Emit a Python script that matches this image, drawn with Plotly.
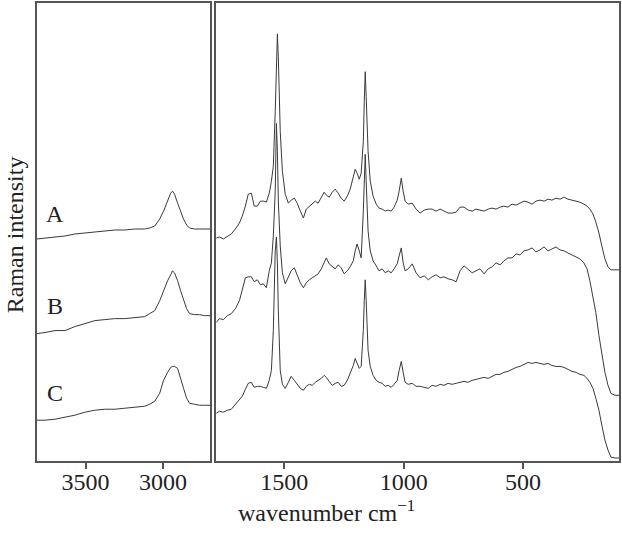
import plotly.graph_objects as go

# ---------------- data ----------------
# High-wavenumber region (C-H stretch), cm^-1
wn_high = [3814, 3762, 3698, 3633, 3569, 3505, 3440, 3376, 3311, 3247,
           3182, 3118, 3086, 3053, 3021, 2996, 2970, 2950, 2938, 2925,
           2905, 2886, 2867, 2847, 2828, 2796, 2764, 2731, 2693]
A_high = [223, 224, 225, 226, 228, 229, 230, 231, 232, 232,
          233, 233, 234, 236, 243, 251, 261, 269, 271, 268,
          259, 251, 243, 237, 234, 233, 233, 233, 233]
B_high = [128, 129, 131, 131, 135, 138, 141, 142, 143, 143,
          144, 145, 148, 151, 161, 171, 181, 187, 191, 189,
          181, 171, 161, 153, 148, 147, 147, 146, 146]
C_high = [41, 41, 42, 44, 46, 49, 51, 52, 52, 53,
          54, 55, 57, 60, 68, 81, 89, 94, 95, 95,
          93, 84, 73, 63, 58, 57, 56, 56, 56]

# Fingerprint region, cm^-1
wn_low = [1785, 1772, 1755, 1738, 1722, 1705, 1688, 1676, 1663, 1651,
          1638, 1626, 1613, 1600, 1588, 1575, 1563, 1554, 1546, 1538,
          1533, 1529, 1525, 1517, 1508, 1496, 1483, 1471, 1458, 1446,
          1433, 1420, 1408, 1395, 1383, 1370, 1358, 1345, 1333, 1324,
          1312, 1299, 1287, 1274, 1262, 1249, 1236, 1224, 1211, 1203,
          1195, 1186, 1178, 1169, 1165, 1161, 1157, 1149, 1140, 1128,
          1115, 1103, 1090, 1077, 1065, 1052, 1040, 1027, 1019, 1010,
          1002, 994, 981, 964, 948, 931, 914, 897, 881, 864,
          847, 831, 814, 797, 780, 764, 747, 730, 713, 697,
          680, 663, 646, 630, 613, 596, 580, 563, 546, 529,
          513, 496, 479, 462, 446, 429, 412, 395, 379, 362,
          345, 328, 312, 295, 278, 262, 245, 232, 220, 207,
          195, 182, 170, 157, 144, 132, 115, 98]
A_low = [224, 225, 223, 226, 228, 233, 239, 246, 256, 268,
         269, 256, 256, 261, 261, 260, 269, 281, 296, 351,
         391, 429, 406, 331, 291, 268, 259, 262, 264, 259,
         251, 244, 253, 256, 258, 261, 259, 265, 270, 267,
         265, 270, 273, 269, 264, 261, 266, 273, 285, 293,
         289, 283, 289, 321, 361, 391, 366, 311, 281, 266,
         258, 254, 253, 251, 252, 251, 255, 262, 271, 284,
         271, 261, 258, 259, 253, 249, 252, 253, 253, 251,
         253, 251, 249, 249, 250, 255, 255, 252, 251, 253,
         252, 251, 253, 254, 253, 255, 256, 255, 258, 257,
         259, 261, 260, 258, 261, 262, 261, 263, 262, 264,
         263, 265, 263, 262, 261, 260, 258, 256, 253, 248,
         240, 229, 216, 203, 195, 192, 192, 192]
B_low = [139, 143, 142, 146, 148, 153, 161, 171, 184, 185,
         185, 180, 182, 177, 178, 174, 191, 199, 226, 271,
         339, 311, 261, 216, 189, 178, 185, 191, 194, 186,
         179, 174, 179, 182, 184, 186, 188, 193, 199, 204,
         198, 195, 193, 197, 194, 188, 191, 195, 201, 211,
         218, 211, 204, 251, 291, 308, 281, 231, 211, 201,
         196, 191, 193, 189, 191, 189, 193, 198, 206, 214,
         199, 191, 193, 198, 189, 184, 186, 182, 185, 187,
         184, 185, 183, 182, 180, 191, 196, 192, 189, 191,
         193, 188, 193, 195, 199, 197, 201, 204, 204, 208,
         207, 211, 212, 214, 210, 212, 215, 211, 213, 215,
         212, 211, 209, 207, 205, 203, 199, 193, 181, 166,
         149, 126, 106, 89, 76, 68, 66, 66]
C_low = [48, 50, 49, 51, 52, 57, 62, 65, 72, 78,
         79, 74, 75, 75, 74, 73, 81, 91, 131, 211,
         225, 199, 151, 91, 77, 73, 79, 85, 81, 77,
         73, 71, 75, 77, 76, 79, 81, 83, 86, 84,
         80, 76, 78, 79, 75, 76, 81, 88, 96, 103,
         99, 93, 95, 131, 161, 182, 161, 111, 95, 86,
         81, 79, 78, 75, 76, 74, 77, 81, 91, 100,
         89, 79, 77, 78, 75, 75, 74, 73, 76, 75,
         77, 76, 78, 77, 78, 79, 80, 79, 81, 82,
         83, 84, 83, 85, 87, 87, 89, 90, 92, 94,
         95, 97, 99, 98, 99, 98, 97, 98, 96, 95,
         95, 94, 92, 90, 89, 87, 86, 83, 79, 73,
         63, 51, 36, 21, 11, 4, 3, 3]

sample_labels = ["A", "B", "C"]
label_levels = [248, 156, 68]
ticks_high = [3500, 3000]
ticks_low = [1500, 1000, 500]

# ---------------- figure ----------------
LINE = "#3a3a3a"
FRAME = "#555555"
FONT = "Liberation Serif"

fig = go.Figure()
for y in (A_high, B_high, C_high):
    fig.add_trace(go.Scatter(x=wn_high, y=y, mode="lines", xaxis="x", yaxis="y",
                             line=dict(color=LINE, width=1), showlegend=False,
                             hoverinfo="skip"))
for y in (A_low, B_low, C_low):
    fig.add_trace(go.Scatter(x=wn_low, y=y, mode="lines", xaxis="x2", yaxis="y2",
                             line=dict(color=LINE, width=1), showlegend=False,
                             hoverinfo="skip"))

for lab, lev in zip(sample_labels, label_levels):
    fig.add_annotation(x=3700, y=lev, xref="x", yref="y", text=lab, showarrow=False,
                       font=dict(family=FONT, size=24, color="#222"),
                       xanchor="center", yanchor="middle")

axis_common = dict(showline=True, linecolor=FRAME, linewidth=1.5, mirror=True,
                   showgrid=False, zeroline=False, ticks="outside", ticklen=6,
                   tickcolor=FRAME, tickwidth=1.5, ticklabelstandoff=-8,
                   tickfont=dict(family=FONT, size=24, color="#222"))

fig.update_layout(
    width=622, height=539, autosize=False,
    margin=dict(l=37, r=1, t=1, b=78),
    paper_bgcolor="white", plot_bgcolor="white",
    xaxis=dict(domain=[0, 0.298], range=[3814, 2693], tickvals=ticks_high,
               anchor="y", **axis_common),
    xaxis2=dict(domain=[0.308, 1], range=[1785, 98], tickvals=ticks_low,
                anchor="y2", **axis_common),
    yaxis=dict(domain=[0, 1], range=[0, 460], showline=True, linecolor=FRAME,
               linewidth=1.5, mirror=True, showgrid=False, zeroline=False,
               showticklabels=False, ticks="", anchor="x"),
    yaxis2=dict(domain=[0, 1], range=[0, 460], showline=True, linecolor=FRAME,
                linewidth=1.5, mirror=True, showgrid=False, zeroline=False,
                showticklabels=False, ticks="", anchor="x2"),
)

fig.add_annotation(x=0.498, y=-0.11, xref="paper", yref="paper",
                   text="wavenumber cm<sup>\u22121</sup>", showarrow=False,
                   font=dict(family=FONT, size=24, color="#222"),
                   xanchor="center", yanchor="middle")
fig.add_annotation(x=-0.0377, y=0.493, xref="paper", yref="paper",
                   text="Raman intensity", showarrow=False, textangle=-90,
                   font=dict(family=FONT, size=24, color="#222"),
                   xanchor="center", yanchor="middle")

fig.write_html("out.html", config={"responsive": False, "displayModeBar": False},
               post_script="document.body.style.margin='0';document.body.style.overflow='hidden';")
